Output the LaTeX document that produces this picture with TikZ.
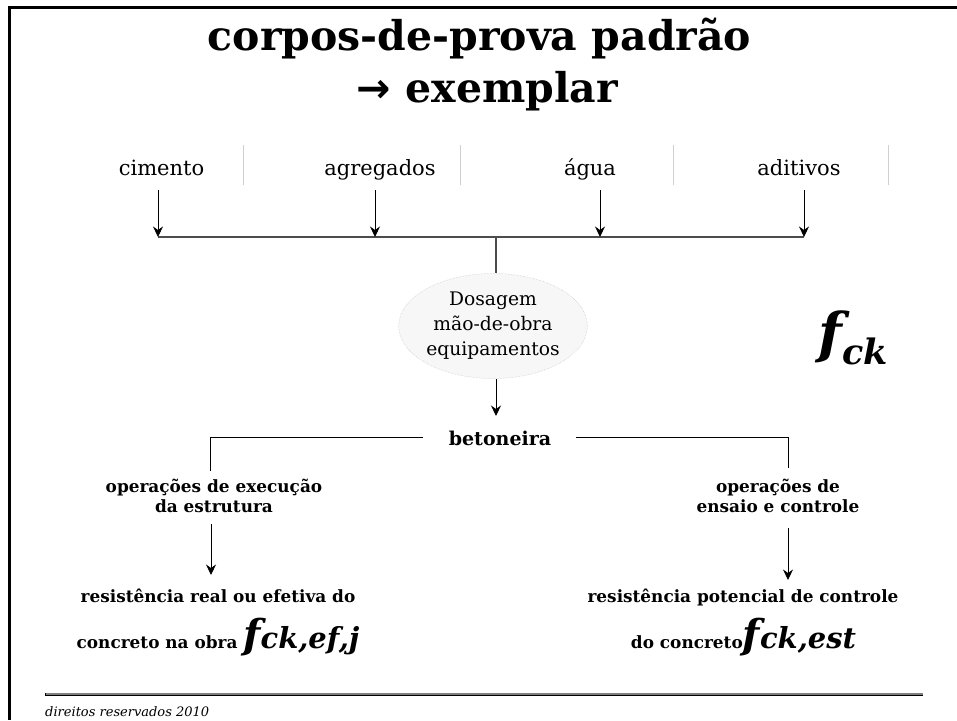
\documentclass[tikz,border=0pt]{standalone}
\usepackage{fontspec}
\setmainfont{DejaVu Serif}
\newfontfamily\symfont{DejaVu Sans}
\usetikzlibrary{arrows.meta,shapes.geometric}
\begin{document}
\begin{tikzpicture}[x=1pt,y=-1pt,
  txt/.style={anchor=base,inner sep=0pt,font=\fontsize{21}{24}\selectfont},
  bold/.style={anchor=base,inner sep=0pt,font=\fontsize{16.9}{20}\selectfont\bfseries},
  ttl/.style={anchor=base,inner sep=0pt,font=\fontsize{41}{41}\selectfont\bfseries},
  arr/.style={-{Stealth[length=10.5pt,width=10pt,inset=3.5pt]},line width=0.9pt},
  conn/.style={line width=0.9pt},
  bus/.style={line width=1.3pt,draw=black!70},
  sep/.style={line width=0.6pt,draw=black!18},
  bigf/.style={anchor=base,inner sep=0pt,font=\bfseries\itshape}]
\useasboundingbox (0,0) rectangle (957,720);
\fill[white] (0,0) rectangle (957,720);
% frame
\draw[line width=2.5pt] (957,7.5) -- (9.5,7.5) -- (9.5,720);
% title
\node[ttl] (title1) at (479.5,50) {corpos-de-prova padrão};
\node[ttl] (title2) at (487.5,102) {{\symfont\bfseries →}\ exemplar};
% inputs
\node[txt] (cim) at (161.5,175) {cimento};
\node[txt] (agr) at (380,175) {agregados};
\node[txt] (agu) at (590,175) {água};
\node[txt] (adi) at (799,175) {aditivos};
\foreach \x in {243,460,673,888} \draw[sep] (\x,145) -- (\x,185);
\coordinate (a1) at (158,190); \coordinate (a2) at (375,190);
\coordinate (a3) at (600,190); \coordinate (a4) at (804,190);
\coordinate (bl) at (158,237); \coordinate (br) at (804,237);
\coordinate (bm) at (496,237);
\draw[bus] (bl) -- (br);
\foreach \c in {a1,a2,a3,a4} \draw[arr] (\c) -- (\c |- bl);
% dosagem
\node[ellipse,minimum width=184pt,minimum height=105pt,inner sep=0pt,
      fill=black!3,draw=black!22,densely dotted,line width=0.5pt,align=center,
      font=\fontsize{18.7}{25}\selectfont] (dos) at (493,326)
      {Dosagem\\mão-de-obra\\equipamentos};
\draw[bus] (bm) -- (bm |- dos.north);
\coordinate (betin) at (496,416);
\draw[arr] (betin |- dos.south) -- (betin);
\node[anchor=base,inner sep=0pt,font=\fontsize{19}{22}\selectfont\bfseries] (bet) at (500,445) {betoneira};
\coordinate (L3) at (210,471);
\coordinate (R3) at (788,468);
\draw[conn] ([xshift=-26pt]bet.west) -| (L3);
\draw[conn] ([xshift=25pt]bet.east) -| (R3);
% left branch
\node[bold] (op1a) at (214,492) {operações de execução};
\node[bold] (op1b) at (214,512) {da estrutura};
\coordinate (l4) at (211,524); \coordinate (l5) at (211,575);
\draw[arr] (l4) -- (l5);
\node[bold] (res1) at (218,602) {resistência real ou efetiva do};
\node[bold] (fck1) at (218,648) {concreto na obra {\fontsize{40}{40}\selectfont\itshape f}{\fontsize{29}{29}\selectfont\itshape ck,ef,j}};
% right branch
\node[bold] (op2a) at (778,492) {operações de};
\node[bold] (op2b) at (778,512) {ensaio e controle};
\coordinate (r4) at (788,528); \coordinate (r5) at (788,580);
\draw[arr] (r4) -- (r5);
\node[bold] (res2) at (743,602) {resistência potencial de controle};
\node[bold] (fck2) at (743.5,648) {do concreto{\fontsize{40}{40}\selectfont\itshape f}{\fontsize{29}{29}\selectfont\itshape ck,est}};
% big fck
\node[bigf] (fck) at (853.5,352) {{\fontsize{55}{55}\selectfont f}\raisebox{-12pt}{\fontsize{35}{35}\selectfont ck}};
% footer
\draw[line width=3pt] (45,694) -- (923,694);
\draw[line width=1.4pt,black!50] (45.5,694) -- (922.5,694);
\node[anchor=base west,inner sep=0pt,font=\fontsize{13}{15}\selectfont\itshape] (foot) at (45,716) {direitos reservados 2010};
\end{tikzpicture}
\end{document}
